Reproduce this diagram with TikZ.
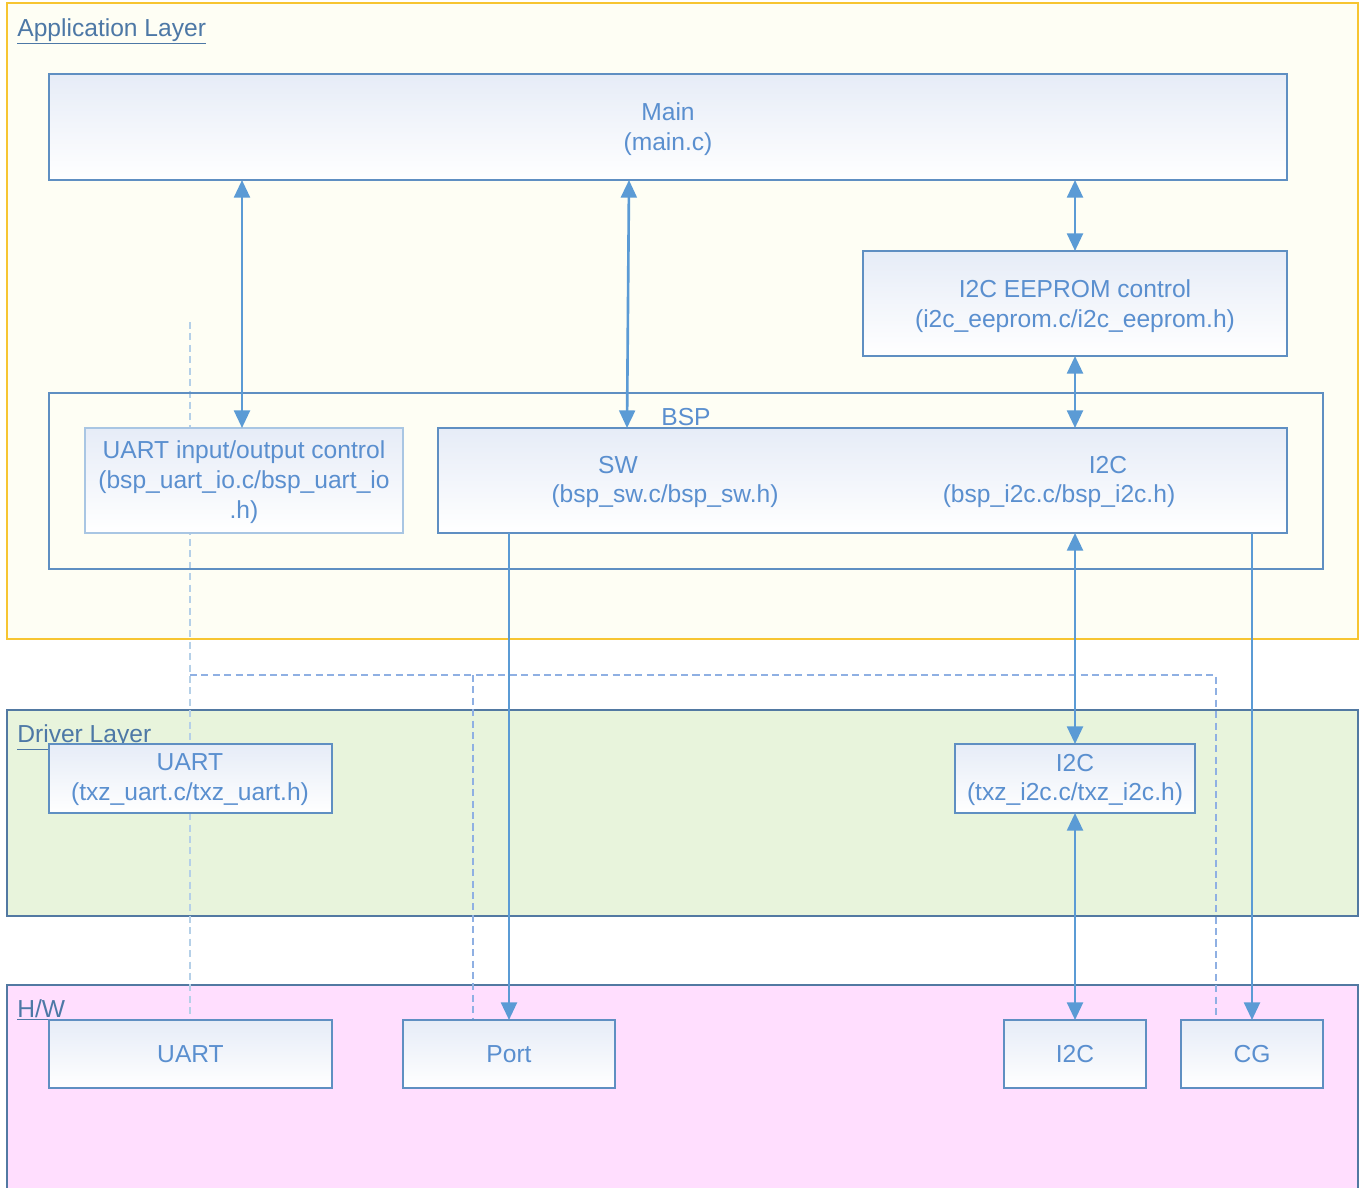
\documentclass[tikz,border=0pt]{standalone}
\usepackage{fontspec}
\setmainfont{Liberation Sans}
\usetikzlibrary{calc,arrows.meta}
\definecolor{appfill}{HTML}{FEFEF4}
\definecolor{appborder}{HTML}{F7C531}
\definecolor{drvfill}{HTML}{E8F4DC}
\definecolor{hwfill}{HTML}{FFDEFE}
\definecolor{layborder}{HTML}{5279A2}
\definecolor{boxborder}{HTML}{5F8FC2}
\definecolor{paleborder}{HTML}{A9C6E3}
\definecolor{txtblue}{HTML}{5A8FCF}
\definecolor{labblue}{HTML}{4D78A6}
\definecolor{arrblue}{HTML}{5B9BD5}
\definecolor{dashblue}{HTML}{8FB0E3}
\definecolor{dashpale}{HTML}{B5D0E8}
\definecolor{gradtop}{HTML}{E6ECF7}
\newcommand{\ulab}[1]{\underline{#1}}
\tikzset{
  layer/.style={draw=layborder, line width=1.4pt},
  laylabel/.style={anchor=base west, inner sep=0pt, text=labblue, font=\fontsize{14}{17}\selectfont},
  boxstyle/.style={draw=boxborder, line width=0.9pt, top color=gradtop, bottom color=white,
    inner sep=0pt, outer sep=0pt, text=txtblue, align=center, font=\fontsize{14}{17}\selectfont},
  txt/.style={inner sep=0pt, text=txtblue, align=center, font=\fontsize{14}{17}\selectfont},
  arr/.style={draw=arrblue, line width=1.5pt, -{Triangle[length=10pt,width=9pt]}},
  biarr/.style={draw=arrblue, line width=1.5pt, {Triangle[length=10pt,width=9pt]}-{Triangle[length=10pt,width=9pt]}},
  dashln/.style={draw=dashblue, line width=0.9pt, dash pattern=on 4pt off 2.5pt},
  dashpl/.style={draw=dashpale, line width=1.1pt, dash pattern=on 4pt off 2.5pt}
}
\newcommand{\bx}[6]{%
  \node[boxstyle, #6, minimum width={(#4-#2)*0.02cm}, minimum height={(#5-#3)*0.02cm}]
    (#1) at ({(#2+#4)/2},{(#3+#5)/2}) {};}
\begin{document}
\begin{tikzpicture}[x=0.02cm,y=-0.02cm]
\useasboundingbox (0,0) rectangle (1365,1187);
\clip (0,0) rectangle (1365,1187);
\fill[white] (0,0) rectangle (1365,1187);
% layers
\path[draw=appborder, fill=appfill, line width=1.4pt] (7,3) rectangle (1358,639);
\node[laylabel] (applab) at (17,36) {\ulab{Application Layer}};
\path[layer, fill=drvfill] (7,710) rectangle (1358,916);
\node[laylabel] (drvlab) at (17,742) {\ulab{Driver Layer}};
\path[layer, fill=hwfill] (7,985) rectangle (1358,1200);
\node[laylabel] (hwlab) at (17,1017) {\ulab{H/W}};
% dashed lines (behind boxes)
\coordinate (dtop) at (190,322);
\coordinate (dj) at (190,675);
\coordinate (dp) at (473,675);
\coordinate (dc) at (1216,675);
\coordinate (dpb) at (473,1020);
\coordinate (dcb) at (1216,1020);
\coordinate (dub) at (190,1020);
\draw[dashpl] (dtop) -- (dub);
\draw[dashln] (dj) -- (dc) -- (dcb);
\draw[dashln] (dp) -- (dpb);
% BSP container
\node[draw=boxborder, line width=0.9pt, inner sep=0pt, outer sep=0pt,
  minimum width={1274*0.02cm}, minimum height={176*0.02cm}] (bsp) at (686,481) {};
% boxes
\bx{main}{49}{74}{1287}{180}{}
\node[txt] (maint) at (668,129) {Main\\(main.c)};
\bx{eeprom}{863}{251}{1287}{356}{}
\node[txt] (eepromt) at (1075,306) {I2C EEPROM control\\(i2c\_eeprom.c/i2c\_eeprom.h)};
\node[txt] (bsplab) at (686,417) {BSP};
\bx{uio}{85}{428}{403}{533}{draw=paleborder}
\node[txt] (uiot) at (244,482) {UART input/output control\\(bsp\_uart\_io.c/bsp\_uart\_io\\.h)};
\bx{bspin}{438}{428}{1287}{533}{}
\node[txt] (swt) at (665,482) {\makebox[0pt]{\hspace{-94\dimexpr0.02cm\relax}SW}\\(bsp\_sw.c/bsp\_sw.h)};
\node[txt] (bi2ct) at (1059,482) {\makebox[0pt]{\hspace{98\dimexpr0.02cm\relax}I2C}\\(bsp\_i2c.c/bsp\_i2c.h)};
\bx{duart}{49}{744}{332}{813}{}
\node[txt] (duartt) at (190,780) {UART\\(txz\_uart.c/txz\_uart.h)};
\bx{di2c}{955}{744}{1195}{813}{}
\node[txt] (di2ct) at (1075,780) {I2C\\(txz\_i2c.c/txz\_i2c.h)};
\bx{huart}{49}{1020}{332}{1088}{}
\node[txt] at (huart) {UART};
\bx{port}{403}{1020}{615}{1088}{}
\node[txt] at (port) {Port};
\bx{hi2c}{1004}{1020}{1146}{1088}{}
\node[txt] at (hi2c) {I2C};
\bx{cg}{1181}{1020}{1323}{1088}{}
\node[txt] at (cg) {CG};
% arrows
\draw[biarr] (main.south -| 242,0) -- (uio.north -| 242,0);
\draw[biarr] ($(main.south west)+(580,0)$) -- ($(bspin.north west)+(189,0)$);
\draw[biarr] (eeprom.north |- main.south) -- (eeprom.north);
\draw[biarr] (eeprom.south) -- (eeprom.south |- bspin.north);
\draw[biarr] (di2c.north |- bspin.south) -- (di2c.north);
\draw[biarr] (di2c.south) -- (hi2c.north);
\draw[arr] (port.north |- bspin.south) -- (port.north);
\draw[arr] (cg.north |- bspin.south) -- (cg.north);
\end{tikzpicture}
\end{document}
